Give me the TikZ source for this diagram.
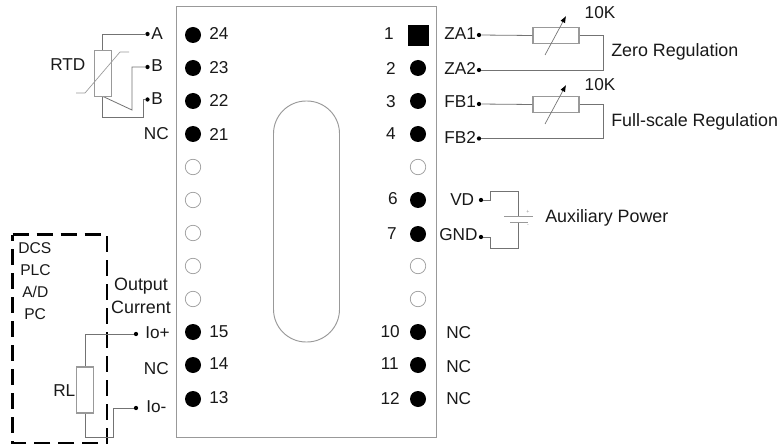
\documentclass[tikz,border=0pt]{standalone}
\usepackage{fontspec}
\setmainfont{Liberation Sans}
\usetikzlibrary{arrows.meta}
\definecolor{wire}{gray}{0.45}
\definecolor{boxc}{gray}{0.6}
\tikzset{
  x=0.75pt,y=-0.75pt,
  lbl/.style={inner sep=0pt,font=\fontsize{13.4}{15}\selectfont,text=black!90},
  numl/.style={inner sep=0pt,font=\fontsize{12.9}{15}\selectfont,text=black!90},
  tagl/.style={inner sep=0pt,font=\fontsize{11.7}{14}\selectfont,text=black!90},
  pin/.style={circle,fill=black,minimum size=12pt,inner sep=0pt},
  hole/.style={circle,draw=boxc,fill=white,line width=0.5pt,minimum size=11.6pt,inner sep=0pt},
  dotn/.style={circle,fill=black,minimum size=3.2pt,inner sep=0pt},
  wirel/.style={draw=wire,line width=0.6pt},
  resi/.style={draw=boxc,line width=0.8pt,fill=white},
}
\begin{document}
\begin{tikzpicture}
\useasboundingbox (0,0) rectangle (780,445);
\fill[white] (0,0) rectangle (780,445);
\draw[boxc,line width=0.7pt] (176.5,6.5) rectangle (436.5,437);
\draw[boxc,line width=0.7pt,rounded corners=24.5pt] (273.5,101) rectangle (339.5,342);
% left pins
\foreach \n/\y/\ly/\t in {p24/35/33/24,p23/68/68/23,p22/101/100/22,p21/134/134/21,p15/332/332/15,p14/365/364/14,p13/399/398/13}{
  \node[pin] (\n) at (193,\y) {};
  \node[numl,anchor=west] at (209,\ly) {\t};
}
\foreach \n/\y in {h20/167,h19/200,h18/233,h17/266,h16/299}{\node[hole] (\n) at (193,\y) {};}
% right pins
\node[fill=black,minimum size=15.4pt,inner sep=0pt] (p1) at (418.5,35.5) {};
\node[numl,anchor=east] at (394,34) {1};
\foreach \n/\y/\ly/\ex/\t in {p2/68/68/396/2,p3/101/102/396/3,p4/134/134/396/4,p6/200/199/398/6,p7/234/234/397/7,p10/332/332/400/10,p11/365/364/399/11,p12/399/398/400/12}{
  \node[pin] (\n) at (418,\y) {};
  \node[numl,anchor=east] at (\ex,\ly) {\t};
}
\foreach \n/\y in {h5/167,h8/266,h9/299}{\node[hole] (\n) at (418,\y) {};}
% labels right
\node[numl,anchor=west] at (444,34) {ZA1};
\node[numl,anchor=west] at (444,68) {ZA2};
\node[numl,anchor=west] at (444,102) {FB1};
\node[numl,anchor=west] at (444,137) {FB2};
\node[numl,anchor=west] at (450,200) {VD};
\node[numl,anchor=west] at (439,235) {GND};
\foreach \y/\n in {333/r10,367/r11,399/r12}{\node[numl,anchor=west] (\n) at (446,\y) {NC};}
\node[numl] at (600,13) {10K};
\node[numl] at (600,85) {10K};
\node[lbl,anchor=west] at (611,52) {Zero Regulation};
\node[lbl,anchor=west] at (611,122) {Full-scale Regulation};
\node[lbl,anchor=west] at (545,218) {Auxiliary Power};
% zero
\node[dotn] (dza1) at (479,35) {}; \node[dotn] (dza2) at (479,70) {};
\node[resi,minimum width=34.5pt,minimum height=12.5pt,inner sep=0pt] (r1) at (556,35.5) {};
\draw[wirel] (dza1) -- (r1.west);
\draw[wirel] (r1.east) -- (603,35.5) -- (603,70) -- (dza2);
\draw[wire,line width=0.5pt,-{Latex[black,length=5pt,width=4pt]}] (545,55) -- (566,16);
% FB
\node[dotn] (dfb1) at (479,104) {}; \node[dotn] (dfb2) at (479,138.5) {};
\node[resi,minimum width=34.5pt,minimum height=12.5pt,inner sep=0pt] (r2) at (556,104.5) {};
\draw[wirel] (dfb1) -- (r2.west);
\draw[wirel] (r2.east) -- (603,104.5) -- (603,138.5) -- (dfb2);
\draw[wire,line width=0.5pt,-{Latex[black,length=5pt,width=4pt]}] (545,124) -- (566,85);
% Aux
\node[dotn] (dvd) at (481,200) {}; \node[dotn] (dgnd) at (481,237) {};
\draw[wirel] (dvd) -- (490,200) -- (490,191) -- (518,191) -- (518,216);
\draw[wirel] (dgnd) -- (490,237) -- (490,248) -- (518,248) -- (518,222);
\draw[boxc,line width=0.7pt] (504,216) -- (533,216);
\draw[boxc,line width=0.7pt] (510,222) -- (528,222);
\node[inner sep=0pt,font=\fontsize{4}{4}\selectfont,text=boxc] at (528,212) {+};
\node[inner sep=0pt,font=\fontsize{4}{4}\selectfont,text=boxc] at (528,226) {-};
% RTD
\node[numl,anchor=west] at (50,65) {RTD};
\node[numl,anchor=west] at (151,34) {A};
\node[numl,anchor=west] at (151,66) {B};
\node[numl,anchor=west] at (151,99) {B};
\node[numl,anchor=east] at (169,134) {NC};
\node[dotn] (da) at (147.5,34) {}; \node[dotn] (db1) at (147.5,67) {}; \node[dotn] (db2) at (147.5,99.5) {};
\draw[wirel] (da) -- (102.5,34) -- (102.5,50);
\draw[wirel] (db1) -- (132,67) -- (132,110) -- (102,96);
\draw[wirel] (db2) -- (143,99.5) -- (143,117) -- (102.5,117) -- (102.5,96);
\draw[boxc,line width=0.7pt,fill=white] (94,50.5) rectangle (111,96);
\draw[boxc,line width=0.5pt] (76,93) -- (85,93) -- (120,52) -- (129,52);
% left
\node[tagl,anchor=west] at (18,248) {DCS};
\node[tagl,anchor=west] at (20,270) {PLC};
\node[tagl,anchor=west] at (22,292) {A/D};
\node[tagl,anchor=west] at (24,314) {PC};
\node[lbl] at (141,286) {Output};
\node[lbl] at (141,307) {Current};
\node[numl,anchor=west] at (145,333) {Io+};
\node[numl,anchor=west] at (146,407) {Io-};
\node[numl,anchor=east] at (169,369) {NC};
\node[numl,anchor=west] at (53,391) {RL};
\draw[black,line width=1.8pt,dash pattern=on 12pt off 6pt] (12.5,234.5) -- (107,234.5) -- (107,443) -- (12.5,443) -- cycle;
\node[dotn] (dio1) at (136,334) {}; \node[dotn] (dio2) at (136,408) {};
\node[resi,minimum width=13pt,minimum height=34.5pt,inner sep=0pt] (rl) at (85,390) {};
\draw[wirel] (dio1) -- (85,334) -- (rl.north);
\draw[wirel] (rl.south) -- (85,437) -- (113.5,437) -- (113.5,408) -- (dio2);
\end{tikzpicture}
\end{document}
